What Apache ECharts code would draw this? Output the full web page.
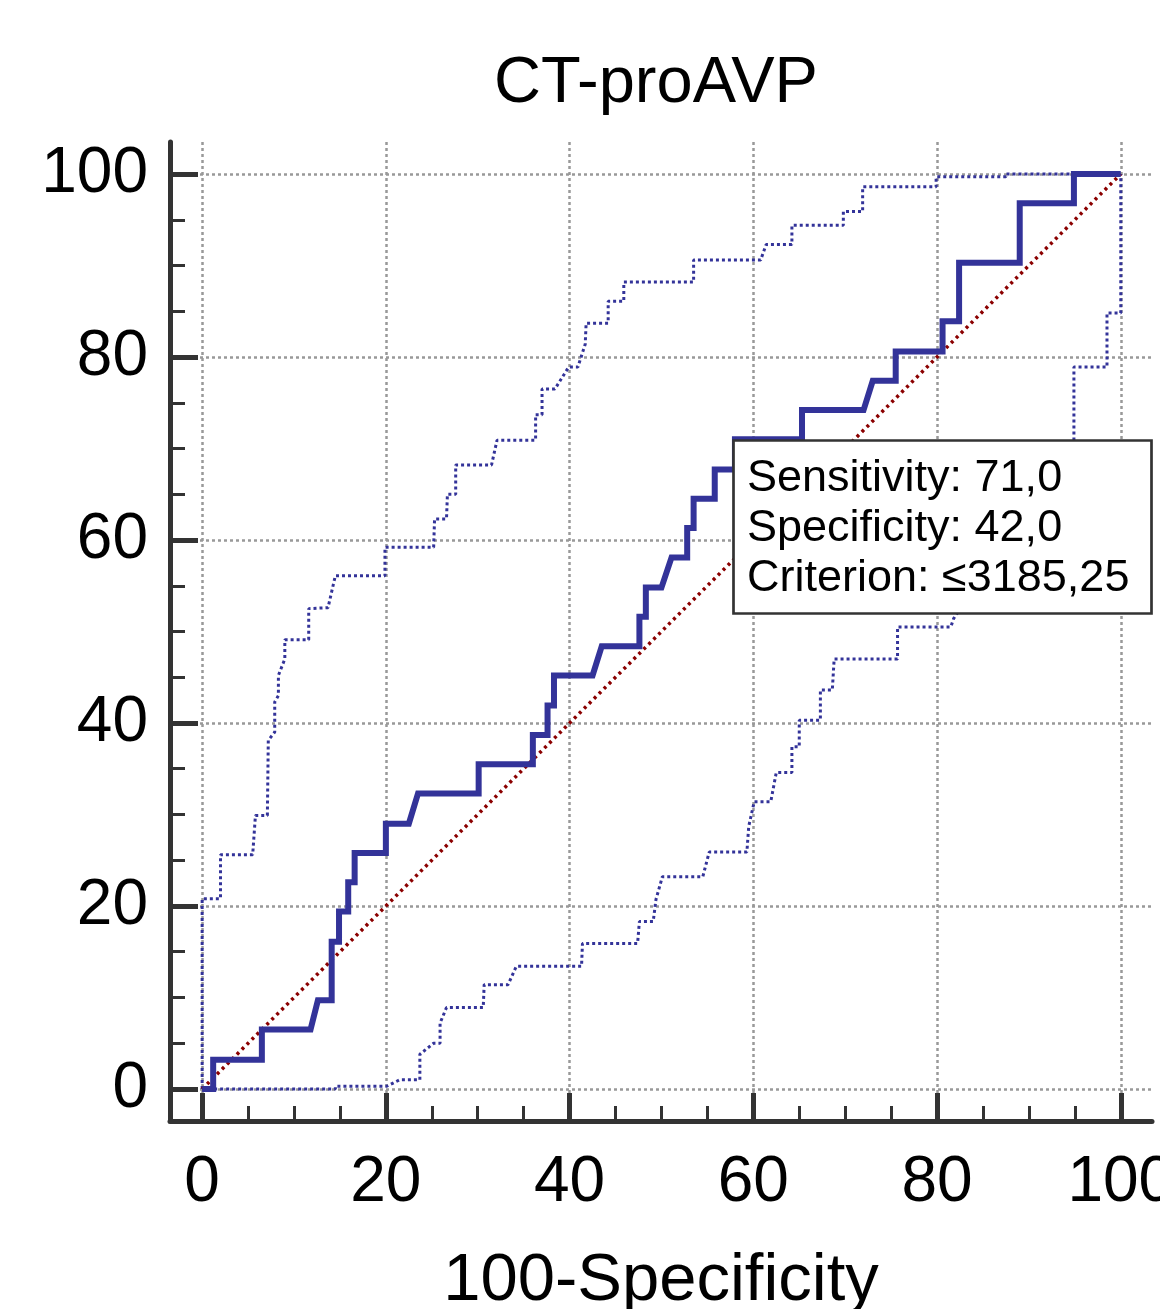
<!DOCTYPE html>
<html>
<head>
<meta charset="utf-8">
<title>CT-proAVP ROC</title>
<script src="https://cdn.jsdelivr.net/npm/echarts@6.0.0/dist/echarts.min.js"></script>
<style>
  html, body { margin: 0; padding: 0; background: #fff; }
  #chart { width: 1160px; height: 1309px; }
</style>
</head>
<body>
<div id="chart"></div>
<script>
// ROC curve, [100-specificity, sensitivity] vertices
const rocCurve = [
  [0, 0], [1.2, 0], [1.2, 3.2], [6.5, 3.2], [6.5, 6.5], [11.8, 6.5], [12.6, 9.7],
  [14.1, 9.7], [14.1, 16.1], [14.9, 16.1], [14.9, 19.4], [15.9, 19.4], [15.9, 22.6],
  [16.6, 22.6], [16.6, 25.8], [20.0, 25.8], [20.0, 29.0], [22.5, 29.0], [23.5, 32.3],
  [30.1, 32.3], [30.1, 35.5], [36.0, 35.5], [36.0, 38.7], [37.6, 38.7], [37.6, 41.9],
  [38.3, 41.9], [38.3, 45.2], [42.5, 45.2], [43.5, 48.4], [47.6, 48.4], [47.6, 51.6],
  [48.3, 51.6], [48.3, 54.8], [50.0, 54.8], [51.1, 58.1], [52.8, 58.1], [52.8, 61.3],
  [53.5, 61.3], [53.5, 64.5], [55.8, 64.5], [55.8, 67.7], [58.0, 67.7], [58.0, 71.0],
  [65.3, 71.0], [65.3, 74.2], [72.0, 74.2], [73.0, 77.4], [75.5, 77.4], [75.5, 80.6],
  [80.6, 80.6], [80.6, 83.9], [82.4, 83.9], [82.4, 90.3], [89.0, 90.3], [89.0, 96.8],
  [94.9, 96.8], [94.9, 100], [100, 100]
];

// upper 95% confidence bound
const upperBand = [
  [0, 0], [0, 20.8], [2.0, 20.8], [2.0, 25.6], [5.5, 25.6], [5.8, 29.9], [7.1, 29.9],
  [7.2, 38.1], [7.9, 39.0], [7.9, 42.3], [8.3, 43.0], [8.3, 45.2], [9.0, 47.0],
  [9.0, 49.1], [11.6, 49.1], [11.6, 52.5], [13.7, 52.6], [14.5, 56.1], [19.9, 56.1],
  [19.9, 59.2], [25.2, 59.2], [25.3, 62.3], [26.6, 62.3], [26.7, 65.0], [27.6, 65.0],
  [27.6, 68.2], [31.5, 68.2], [32.1, 70.9], [36.3, 70.9], [36.3, 73.7], [37.0, 73.7],
  [37.0, 76.5], [38.4, 76.5], [39.9, 78.9], [40.9, 78.9], [41.7, 81.4], [41.8, 83.7],
  [44.2, 83.7], [44.2, 86.1], [45.9, 86.1], [45.9, 88.2], [53.5, 88.2], [53.5, 90.6],
  [60.8, 90.6], [61.4, 92.3], [64.2, 92.3], [64.2, 94.4], [69.8, 94.4], [69.8, 95.9],
  [71.9, 95.9], [71.9, 98.6], [79.9, 98.6], [79.9, 99.7], [87.5, 99.7], [87.5, 100],
  [100, 100]
];

// lower 95% confidence bound
const lowerBand = [
  [0, 0], [14.5, 0], [14.5, 0.3], [20.1, 0.3], [21.5, 1.0], [23.7, 1.0], [23.7, 3.8],
  [25.2, 5.0], [25.9, 5.0], [25.9, 7.2], [26.6, 8.9], [30.6, 8.9], [30.7, 11.4],
  [33.3, 11.4], [34.2, 13.4], [41.3, 13.4], [41.4, 15.9], [47.4, 15.9], [47.6, 18.3],
  [49.1, 18.3], [49.4, 20.7], [50.1, 23.2], [54.5, 23.2], [55.2, 25.9], [59.3, 25.9],
  [59.5, 28.7], [60.1, 31.4], [61.9, 31.4], [62.5, 34.6], [64.2, 34.6], [64.2, 37.4],
  [65.0, 37.4], [65.0, 40.3], [67.3, 40.3], [67.3, 43.6], [68.6, 43.6], [68.8, 47.0],
  [75.7, 47.0], [75.7, 50.5], [81.5, 50.5], [81.8, 51.4], [94.9, 70.9], [94.9, 78.9],
  [98.5, 78.9], [98.5, 84.8], [100, 84.8], [100, 100]
];

const referenceLine = [[0, 0], [100, 100]];

const majorTicks = [0, 20, 40, 60, 80, 100];
const minorTicks = [5, 10, 15, 25, 30, 35, 45, 50, 55, 65, 70, 75, 85, 90, 95];

const chartTitle = 'CT-proAVP';
const xAxisName = '100-Specificity';
const criterionLines = ['Sensitivity: 71,0', 'Specificity: 42,0', 'Criterion: \u22643185,25'];

const FONT = '"Liberation Sans", Arial, sans-serif';
const AXIS_COLOR = '#333';
const CURVE_COLOR = '#333399';

function majorAxis(dim) {
  const isX = dim === 'x';
  const axis = {
    type: 'value',
    min: -3.5,
    max: isX ? 103.4 : 103.5,
    position: isX ? 'bottom' : 'left',
    axisLine: { show: true, onZero: false, lineStyle: { color: AXIS_COLOR, width: 5 } },
    axisTick: {
      show: true, inside: true, length: 28, customValues: majorTicks,
      lineStyle: { color: AXIS_COLOR, width: 5 }
    },
    axisLabel: {
      show: true, customValues: majorTicks, margin: isX ? 30 : 22,
      fontSize: 64, color: '#000', fontFamily: FONT
    },
    splitLine: { show: true, lineStyle: { color: '#999', width: 2.5, type: [3, 3] } }
  };
  if (isX) {
    axis.name = xAxisName;
    axis.nameLocation = 'middle';
    axis.nameGap = 127;
    axis.nameTextStyle = { fontSize: 67, color: '#000', fontFamily: FONT };
  }
  return axis;
}

function minorAxis(dim) {
  const isX = dim === 'x';
  return {
    type: 'value',
    min: -3.5,
    max: isX ? 103.4 : 103.5,
    position: isX ? 'bottom' : 'left',
    axisLine: { show: false, onZero: false },
    axisTick: {
      show: true, inside: true, length: 15, customValues: minorTicks,
      lineStyle: { color: AXIS_COLOR, width: 3 }
    },
    axisLabel: { show: false },
    splitLine: { show: false }
  };
}

const chart = echarts.init(document.getElementById('chart'));

chart.setOption({
  animation: false,
  backgroundColor: '#fff',
  title: [
    {
      text: chartTitle,
      left: 494, top: 52, padding: 0,
      textStyle: { fontSize: 65, fontWeight: 'normal', color: '#000', fontFamily: FONT }
    },
    {
      text: criterionLines.join('\n'),
      left: 733, top: 440,
      padding: [14, 22, 10, 14],
      backgroundColor: '#fff',
      borderColor: AXIS_COLOR,
      borderWidth: 2.7,
      z: 10,
      textStyle: { fontSize: 45, lineHeight: 50, fontWeight: 'normal', color: '#000', fontFamily: FONT }
    }
  ],
  grid: { left: 170, right: 8, top: 142, bottom: 188, containLabel: false, outerBoundsMode: 'none' },
  xAxis: [majorAxis('x'), minorAxis('x')],
  yAxis: [majorAxis('y'), minorAxis('y')],
  series: [
    {
      name: 'upper', type: 'line', data: upperBand, showSymbol: false, silent: true,
      lineStyle: { color: CURVE_COLOR, width: 3, type: [3, 3] }
    },
    {
      name: 'lower', type: 'line', data: lowerBand, showSymbol: false, silent: true,
      lineStyle: { color: CURVE_COLOR, width: 3, type: [3, 3] }
    },
    {
      name: 'reference', type: 'line', data: referenceLine, showSymbol: false, silent: true,
      lineStyle: { color: '#8b0000', width: 3.5, type: [3, 4] }
    },
    {
      name: 'ROC', type: 'line', data: rocCurve, showSymbol: false, silent: true,
      lineStyle: { color: CURVE_COLOR, width: 6, join: 'miter' }
    }
  ]
});
</script>
</body>
</html>
